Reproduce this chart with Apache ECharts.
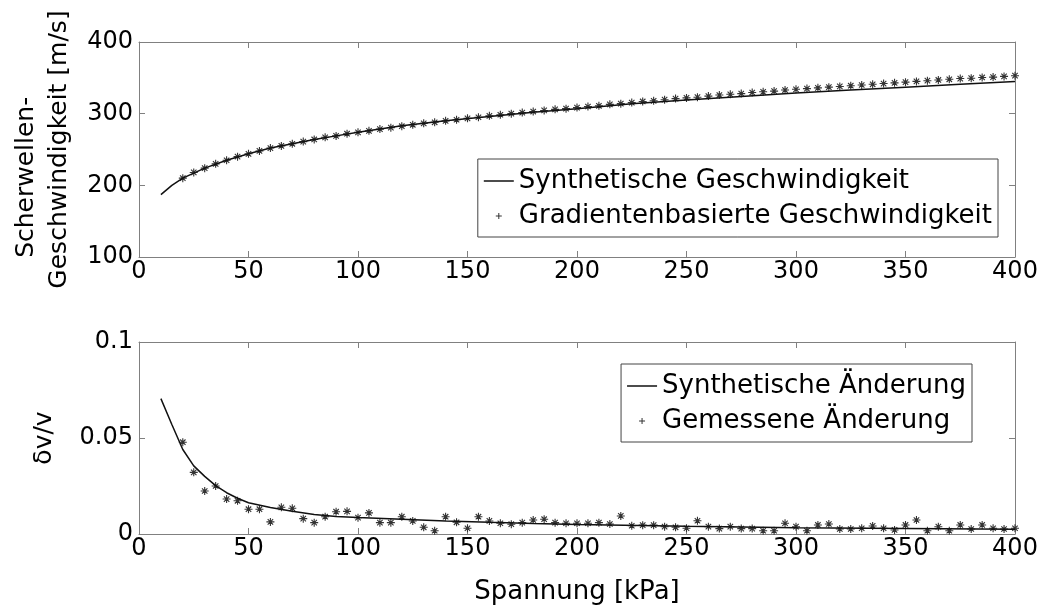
<!DOCTYPE html>
<html>
<head>
<meta charset="utf-8">
<script src="https://cdn.jsdelivr.net/npm/echarts@6/dist/echarts.min.js"></script>
<style>html,body{margin:0;padding:0;background:#fff}#c{width:1043px;height:615px}</style>
</head>
<body>
<div id="c"></div>
<script>
// ---- tick values ----
const xTicks = [0, 50, 100, 150, 200, 250, 300, 350, 400];
const topYTicks = [100, 200, 300, 400];
const botYTicks = [0, 0.05, 0.1];

// ---- top panel: shear wave velocity ----
const topLineX = [10, 15, 20, 30, 40, 50, 60, 70, 80, 90, 100, 120, 140, 160, 180, 200, 225, 250, 275, 300, 325, 350, 375, 400];
const topLineY = [187, 200, 210, 224, 235, 244, 252, 258, 264, 269, 274, 283, 290, 296, 302, 307, 314, 319, 324, 329, 333, 337, 341, 345];

const sigmaX = [20, 25, 30, 35, 40, 45, 50, 55, 60, 65, 70, 75, 80, 85, 90, 95, 100,
  105, 110, 115, 120, 125, 130, 135, 140, 145, 150, 155, 160, 165, 170, 175, 180, 185, 190, 195, 200,
  205, 210, 215, 220, 225, 230, 235, 240, 245, 250, 255, 260, 265, 270, 275, 280, 285, 290, 295, 300,
  305, 310, 315, 320, 325, 330, 335, 340, 345, 350, 355, 360, 365, 370, 375, 380, 385, 390, 395, 400];
const topPointsY = [210, 218, 224, 230, 235, 240, 244, 248, 252, 255, 258, 261, 264, 267, 269, 272, 274,
  276, 278.5, 280.5, 282.5, 284.5, 286.5, 288, 290, 291.5, 293.5, 295, 297, 298.5, 300, 301.5, 303, 304.5, 306, 307, 308.5,
  310, 311, 313, 314, 315.5, 317, 318, 319.5, 321, 322, 323, 324.5, 326, 327, 328, 329.5, 330.5, 331.5, 333, 334,
  335, 336, 337, 338, 339, 340, 341, 342, 343, 344, 345, 346, 347, 348, 349, 349.5, 350.5, 351, 352, 353];

// ---- bottom panel: relative change dv/v ----
const botLineX = [10, 15, 20, 25, 30, 35, 40, 45, 50, 60, 70, 80, 90, 100, 120, 140, 160, 180, 200, 250, 300, 350, 400];
const botLineY = [0.0705, 0.057, 0.044, 0.0355, 0.0300, 0.0252, 0.0215, 0.0186, 0.0163, 0.0138, 0.0118, 0.0101, 0.0091, 0.0086,
  0.0077, 0.0068, 0.0061, 0.0055, 0.0050, 0.0041, 0.0033, 0.0028, 0.0025];
const botPointsY = [0.0478, 0.0321, 0.0224, 0.0250, 0.0182, 0.0173, 0.0129, 0.0129, 0.0063, 0.0139, 0.0134, 0.0080, 0.0059, 0.0090, 0.0116, 0.0118, 0.0085,
  0.0110, 0.0059, 0.0059, 0.0090, 0.0068, 0.0035, 0.0017, 0.0090, 0.0061, 0.0030, 0.0090, 0.0068, 0.0056, 0.0051, 0.0059, 0.0073, 0.0077, 0.0059, 0.0056, 0.0056,
  0.0056, 0.0059, 0.0052, 0.0094, 0.0043, 0.0046, 0.0046, 0.0038, 0.0035, 0.0030, 0.0069, 0.0038, 0.0028, 0.0038, 0.0028, 0.0028, 0.0017, 0.0017, 0.0056, 0.0038,
  0.0017, 0.0047, 0.0052, 0.0026, 0.0026, 0.0030, 0.0042, 0.0030, 0.0021, 0.0047, 0.0073, 0.0017, 0.0038, 0.0017, 0.0047, 0.0026, 0.0047, 0.0030, 0.0026, 0.0030];

const names = {
  topLine: 'Synthetische Geschwindigkeit',
  topPts: 'Gradientenbasierte Geschwindigkeit',
  botLine: 'Synthetische Änderung',
  botPts: 'Gemessene Änderung'
};

function zip(xs, ys) { return xs.map((x, i) => [x, ys[i]]); }

const FONT = 'DejaVu Sans';
const GRAY = '#808080';
const STAR = 'path://M5,0L5,10M0,5L10,5M1.6,1.6L8.4,8.4M8.4,1.6L1.6,8.4';
const LINE_ICON = 'path://M0,0L30,0L30,1.5L0,1.5Z';
const DOT_ICON = 'path://M5,0L5,10M0,5L10,5';

function xAxis(gridIndex, position, labels, name) {
  return {
    type: 'value', gridIndex: gridIndex, position: position,
    min: xTicks[0], max: xTicks[xTicks.length - 1], interval: xTicks[1] - xTicks[0],
    axisLine: { show: true, onZero: false, lineStyle: { color: GRAY, width: 1 } },
    axisTick: { show: true, inside: true, length: 6, lineStyle: { color: GRAY } },
    axisLabel: { show: labels, margin: 3, fontFamily: FONT, fontSize: 24, color: '#000' },
    splitLine: { show: false },
    name: name || '', nameLocation: 'middle', nameGap: 43,
    nameTextStyle: { fontFamily: FONT, fontSize: 26, color: '#000', lineHeight: 30 }
  };
}
function yAxis(gridIndex, position, ticks, labels, name, gap, nameSize) {
  return {
    type: 'value', gridIndex: gridIndex, position: position,
    min: ticks[0], max: ticks[ticks.length - 1], interval: ticks[1] - ticks[0],
    axisLine: { show: true, onZero: false, lineStyle: { color: GRAY, width: 1 } },
    axisTick: { show: true, inside: true, length: 6, lineStyle: { color: GRAY } },
    axisLabel: { show: labels, margin: 6, fontFamily: FONT, fontSize: 24, color: '#000' },
    splitLine: { show: false },
    name: name || '', nameLocation: 'middle', nameGap: gap || 0,
    nameTextStyle: { fontFamily: FONT, fontSize: nameSize || 25, color: '#000', lineHeight: 33 }
  };
}

const legendBase = {
  orient: 'vertical', itemGap: 5, itemWidth: 30, itemHeight: 6,
  padding: [7, 6, 6, 6], borderColor: '#444', borderWidth: 1, borderRadius: 0,
  backgroundColor: '#fff', selectedMode: false, align: 'left',
  textStyle: { fontFamily: FONT, fontSize: 26, color: '#000', lineHeight: 30 }
};

function legendItems(lineName, ptsName) {
  return [
    { name: lineName, icon: LINE_ICON, itemStyle: { color: '#111', borderWidth: 0 } },
    { name: ptsName, icon: DOT_ICON, itemStyle: { color: 'rgba(0,0,0,0)', borderColor: '#333', borderWidth: 1 } }
  ];
}

const option = {
  backgroundColor: '#fff',
  animation: false,
  grid: [
    { left: 139, top: 42, right: 28, height: 215, outerBoundsMode: 'none' },
    { left: 139, top: 342, right: 28, height: 192, outerBoundsMode: 'none' }
  ],
  xAxis: [
    xAxis(0, 'bottom', true),
    xAxis(0, 'top', false),
    xAxis(1, 'bottom', true, 'Spannung [kPa]'),
    xAxis(1, 'top', false)
  ],
  yAxis: [
    yAxis(0, 'left', topYTicks, true, 'Scherwellen-\u00a0\u00a0\u00a0\u00a0\u00a0\u00a0\u00a0\nGeschwindigkeit [m/s]', 62, 25),
    yAxis(0, 'right', topYTicks, false),
    yAxis(1, 'left', botYTicks, true, 'δv/v', 78, 25),
    yAxis(1, 'right', botYTicks, false)
  ],
  legend: [
    Object.assign({}, legendBase, { right: 45, top: 159, data: legendItems(names.topLine, names.topPts) }),
    Object.assign({}, legendBase, { right: 71, top: 364, data: legendItems(names.botLine, names.botPts) })
  ],
  series: [
    {
      name: names.topLine, type: 'line', xAxisIndex: 0, yAxisIndex: 0,
      data: zip(topLineX, topLineY), showSymbol: false, symbol: 'none',
      lineStyle: { color: '#111', width: 1.5 }, itemStyle: { color: '#111' }, z: 3
    },
    {
      name: names.topPts, type: 'scatter', xAxisIndex: 0, yAxisIndex: 0,
      data: zip(sigmaX, topPointsY), symbol: STAR, symbolSize: 8,
      itemStyle: { color: 'rgba(0,0,0,0)', borderColor: '#333', borderWidth: 1.1, opacity: 1 }, z: 2
    },
    {
      name: names.botLine, type: 'line', xAxisIndex: 2, yAxisIndex: 2,
      data: zip(botLineX, botLineY), showSymbol: false, symbol: 'none',
      lineStyle: { color: '#111', width: 1.5 }, itemStyle: { color: '#111' }, z: 3
    },
    {
      name: names.botPts, type: 'scatter', xAxisIndex: 2, yAxisIndex: 2,
      data: zip(sigmaX, botPointsY), symbol: STAR, symbolSize: 8,
      itemStyle: { color: 'rgba(0,0,0,0)', borderColor: '#333', borderWidth: 1.1, opacity: 1 }, z: 2
    }
  ]
};

const chart = echarts.init(document.getElementById('c'), null, { renderer: 'canvas' });
chart.setOption(option);
</script>
</body>
</html>
